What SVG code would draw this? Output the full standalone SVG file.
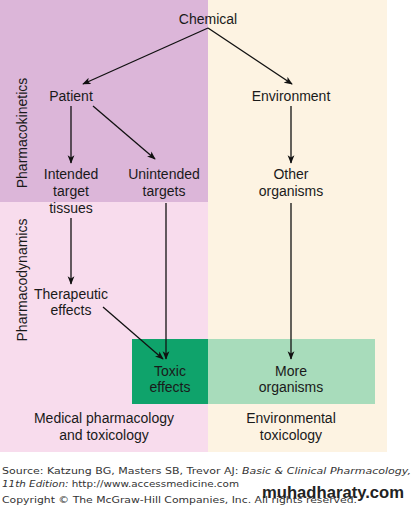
<svg xmlns="http://www.w3.org/2000/svg" width="412" height="507" viewBox="0 0 412 507">
<defs>
<style>
.t{font-family:"Liberation Sans",Arial,sans-serif;font-size:14px;fill:#1a1a1a;text-anchor:middle}
.c{stroke:#111;stroke-width:1.3;fill:none;marker-end:url(#ah)}
.f{font-family:"DejaVu Sans",Verdana,sans-serif;font-size:9px;fill:#333}
</style>
<marker id="ah" viewBox="0 0 10 8" refX="9" refY="4" markerWidth="8.5" markerHeight="7.5" markerUnits="userSpaceOnUse" orient="auto">
<path d="M0,0 L10,4 L0,8 L2.5,4 Z" fill="#111"/>
</marker>
</defs>
<rect width="412" height="507" fill="#fff"/>
<g id="panels">
<rect x="0" y="0" width="208" height="202" fill="#dcb6d9"/>
<rect x="0" y="202" width="208" height="250" fill="#f8dced"/>
<rect x="208" y="0" width="179" height="452" fill="#fdf3e2"/>
<rect x="208" y="339" width="167" height="65" fill="#a8dcbb"/>
<rect x="132" y="339" width="76" height="65" fill="#0fa36b"/>
</g>
<g id="side-labels">
<text class="t" transform="translate(27,133) rotate(-90)">Pharmacokinetics</text>
<text class="t" transform="translate(27,280) rotate(-90)">Pharmacodynamics</text>
</g>
<g id="connectors">
<line class="c" x1="208" y1="28" x2="83" y2="84"/>
<line class="c" x1="208" y1="28" x2="292" y2="84"/>
<line class="c" x1="71" y1="106" x2="71" y2="163"/>
<line class="c" x1="93" y1="106" x2="155" y2="159"/>
<line class="c" x1="291" y1="106" x2="291" y2="163"/>
<line class="c" x1="71" y1="218" x2="71" y2="284"/>
<line class="c" x1="166" y1="203" x2="166" y2="359"/>
<line class="c" x1="291" y1="203" x2="291" y2="359"/>
<line class="c" x1="103" y1="307" x2="163" y2="359"/>
</g>
<g id="chemical"><text class="t" x="208" y="24">Chemical</text></g>
<g id="patient"><text class="t" x="71" y="101">Patient</text></g>
<g id="environment"><text class="t" x="291" y="101">Environment</text></g>
<g id="intended"><text class="t" x="71" y="179">Intended</text><text class="t" x="71" y="196">target</text><text class="t" x="71" y="213">tissues</text></g>
<g id="unintended"><text class="t" x="164" y="179">Unintended</text><text class="t" x="164" y="196">targets</text></g>
<g id="other"><text class="t" x="291" y="179">Other</text><text class="t" x="291" y="196">organisms</text></g>
<g id="therapeutic"><text class="t" x="71" y="299">Therapeutic</text><text class="t" x="71" y="315">effects</text></g>
<g id="toxic"><text class="t" x="170" y="376">Toxic</text><text class="t" x="170" y="392">effects</text></g>
<g id="more"><text class="t" x="291" y="376">More</text><text class="t" x="291" y="392">organisms</text></g>
<g id="medical"><text class="t" x="104" y="423">Medical pharmacology</text><text class="t" x="104" y="440">and toxicology</text></g>
<g id="envtox"><text class="t" x="291" y="423">Environmental</text><text class="t" x="291" y="440">toxicology</text></g>
<g id="footer">
<text class="f" x="2" y="474" textLength="409" lengthAdjust="spacingAndGlyphs">Source: Katzung BG, Masters SB, Trevor AJ: <tspan font-style="italic">Basic &amp; Clinical Pharmacology,</tspan></text>
<text class="f" x="2" y="487" textLength="237" lengthAdjust="spacingAndGlyphs"><tspan font-style="italic">11th Edition:</tspan> http://www.accessmedicine.com</text>
<text class="f" x="2" y="503" textLength="355" lengthAdjust="spacingAndGlyphs">Copyright © The McGraw-Hill Companies, Inc. All rights reserved.</text>
<text x="262" y="498" font-family="Liberation Sans,Arial,sans-serif" font-weight="bold" font-size="16.5" fill="#222" textLength="142" lengthAdjust="spacingAndGlyphs">muhadharaty.com</text>
</g>
</svg>
